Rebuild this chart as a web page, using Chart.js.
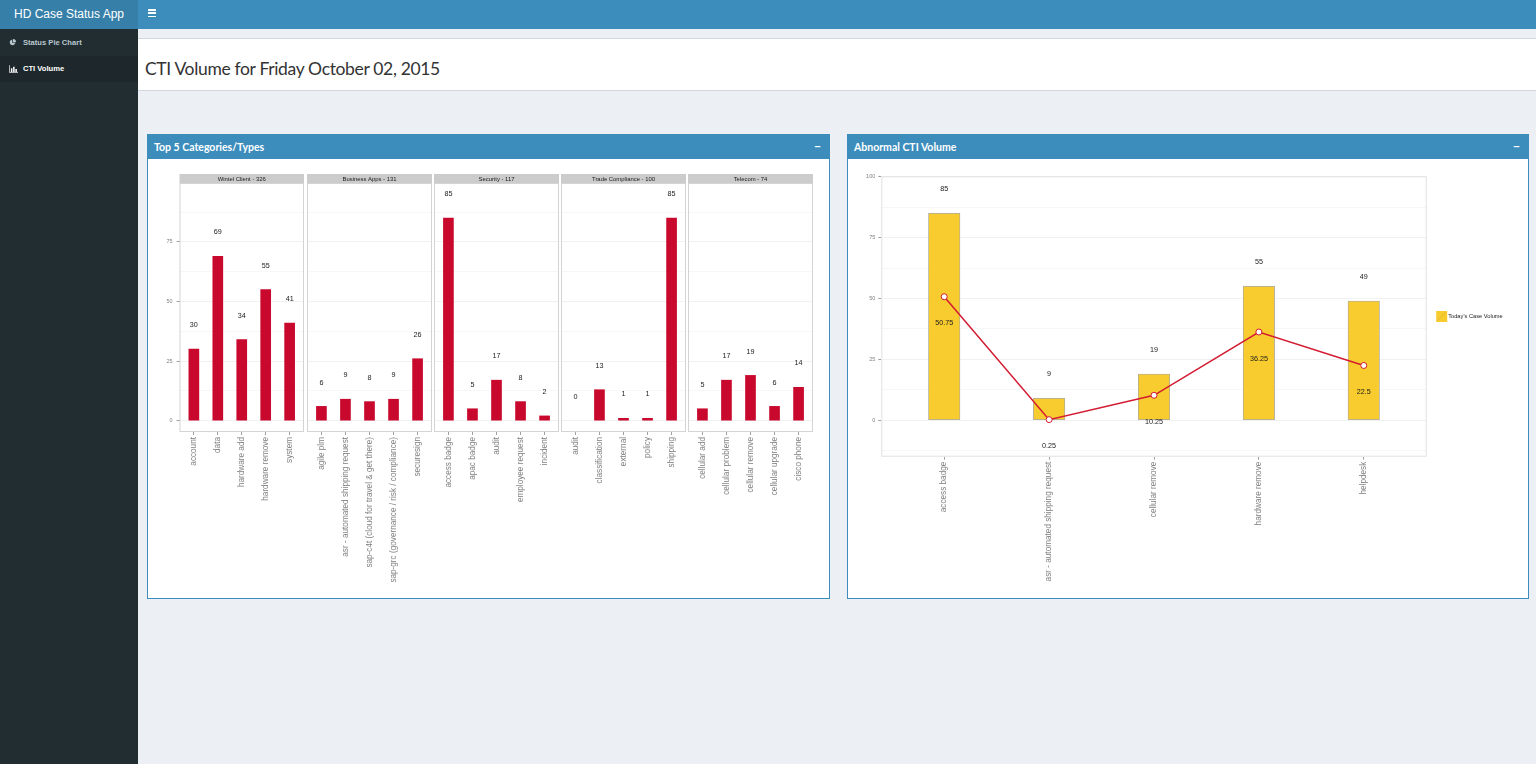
<!DOCTYPE html>
<html>
<head>
<meta charset="utf-8">
<title>HD Case Status App</title>
<script src="https://cdn.jsdelivr.net/npm/chart.js@4.4.0/dist/chart.umd.min.js"></script>
<style>
html, body { margin: 0; padding: 0; width: 1536px; height: 764px; overflow: hidden; background: #ecf0f5; font-family: "Liberation Sans", Arial, sans-serif; }
.abs { position: absolute; }
.topbar { left: 0; top: 0; width: 1536px; height: 29px; background: #3c8dbc; }
.logo { left: 0; top: 0; width: 138px; height: 29px; background: #367fa9; color: #fff; font-size: 12px; line-height: 29px; text-align: center; }
.burger { left: 148px; top: 9px; width: 8px; }
.burger div { height: 1.5px; background: #fff; margin-bottom: 1.8px; }
.sidebar { left: 0; top: 29px; width: 138px; height: 735px; background: #222d32; }
.menu { left: 0; width: 138px; height: 26px; font-size: 7.6px; font-weight: bold; line-height: 26px; color: #b8c7ce; }
.menu svg { position: absolute; left: 9px; top: 9px; }
.menu span { position: absolute; left: 23px; }
.menu.active { background: #1e282c; color: #fff; }
.band { left: 138px; top: 38px; width: 1398px; height: 51px; background: #fff; border-top: 1px solid #d2d6de; border-bottom: 1px solid #d2d6de; }
.band h1 { position: absolute; left: 7px; top: 19px; margin: 0; font-family: Lato, "Open Sans", sans-serif; font-weight: normal; font-size: 17.5px; letter-spacing: -0.34px; color: #333; }
.box { top: 134px; height: 463px; background: #fff; border: 1px solid #3c8dbc; box-sizing: content-box; }
.box .head { position: absolute; left: 0; top: 0; right: 0; height: 24px; background: #3c8dbc; color: #fff; font-family: Lato, "Open Sans", sans-serif; font-size: 10.5px; font-weight: bold; line-height: 24px; padding-left: 6px; }
.box .head b { position: absolute; right: 8px; top: -1px; font-size: 12px; }
canvas { position: absolute; }
</style>
</head>
<body>
<div class="abs topbar"></div>
<div class="abs logo">HD Case Status App</div>
<div class="abs burger"><div></div><div></div><div></div></div>
<div class="abs sidebar"></div>
<div class="abs menu" style="top:30px">
  <svg width="7" height="7" viewBox="0 0 10 10"><path d="M4.5 1 A4 4 0 1 0 9 5.5 L4.5 5.5 Z" fill="#b8c7ce"/><path d="M5.5 0 A4.5 4.5 0 0 1 10 4.5 L5.5 4.5 Z" fill="#b8c7ce"/></svg>
  <span>Status Pie Chart</span>
</div>
<div class="abs menu active" style="top:56px">
  <svg width="9" height="8" viewBox="0 0 12 10"><path d="M0.5 0 V9.5 H12" stroke="#fff" fill="none"/><rect x="2.5" y="4" width="2" height="5" fill="#fff"/><rect x="5.5" y="2" width="2" height="7" fill="#fff"/><rect x="8.5" y="5" width="2" height="4" fill="#fff"/></svg>
  <span>CTI Volume</span>
</div>
<div class="abs band"><h1>CTI Volume for Friday October 02, 2015</h1></div>

<div class="abs box" style="left:147px;width:681px"><div class="head">Top 5 Categories/Types<b>&minus;</b></div></div>
<div class="abs box" style="left:847px;width:680px"><div class="head">Abnormal CTI Volume<b>&minus;</b></div></div>

<canvas id="facet0" width="154" height="418" style="left:150px;top:174px"></canvas>
<canvas id="facet1" width="125" height="418" style="left:307px;top:174px"></canvas>
<canvas id="facet2" width="125" height="418" style="left:434px;top:174px"></canvas>
<canvas id="facet3" width="125" height="418" style="left:561px;top:174px"></canvas>
<canvas id="facet4" width="125" height="418" style="left:688px;top:174px"></canvas>
<canvas id="abnormal" width="677" height="417" style="left:850px;top:170px"></canvas>

<script>
// top 5 categories, each with its top 5 types
const facetTitles = ["Wintel Client - 326", "Business Apps - 131", "Security - 117", "Trade Compliance - 100", "Telecom - 74"];
const wintelTypes = ["account", "data", "hardware add", "hardware remove", "system"];
const wintelCounts = [30, 69, 34, 55, 41];
const bizAppsTypes = ["agile plm", "asr - automated shipping request", "sap-c4t (cloud for travel & get there)", "sap-grc (governance / risk / compliance)", "securesign"];
const bizAppsCounts = [6, 9, 8, 9, 26];
const securityTypes = ["access badge", "apac badge", "audit", "employee request", "incident"];
const securityCounts = [85, 5, 17, 8, 2];
const tradeTypes = ["audit", "classification", "external", "policy", "shipping"];
const tradeCounts = [0, 13, 1, 1, 85];
const telecomTypes = ["cellular add", "cellular problem", "cellular remove", "cellular upgrade", "cisco phone"];
const telecomCounts = [5, 17, 19, 6, 14];

// abnormal volume: today vs average
const abnormalTypes = ["access badge", "asr - automated shipping request", "cellular remove", "hardware remove", "helpdesk"];
const todayVolume = [85, 9, 19, 55, 49];
const averageVolume = [50.75, 0.25, 10.25, 36.25, 22.5];

const facetTypes = [wintelTypes, bizAppsTypes, securityTypes, tradeTypes, telecomTypes];
const facetCounts = [wintelCounts, bizAppsCounts, securityCounts, tradeCounts, telecomCounts];

const RED = "#c9082d";
const LINE_RED = "#d31b32";
const YELLOW = "#f8cb2e";
const AXIS_GREY = "#7f7f7f";

Chart.defaults.font.family = '"Liberation Sans", Arial, sans-serif';

// grey strip on top of each facet panel
const stripPlugin = {
    id: "strip",
    beforeDraw(chart, args, opts) {
        if (!opts.text) return;
        const ctx = chart.ctx, a = chart.chartArea;
        ctx.save();
        ctx.fillStyle = "#cccccc";
        ctx.fillRect(a.left, 0, a.right - a.left, a.top);
        ctx.fillStyle = "#1a1a1a";
        ctx.font = '5.9px "Liberation Sans", Arial, sans-serif';
        ctx.textAlign = "center";
        ctx.textBaseline = "middle";
        ctx.fillText(opts.text, (a.left + a.right) / 2, a.top / 2 + 0.5);
        ctx.restore();
    }
};

// thin grey border around the plot panel
const panelBorder = {
    id: "panelBorder",
    afterDraw(chart, args, opts) {
        const ctx = chart.ctx, a = chart.chartArea;
        ctx.save();
        ctx.strokeStyle = opts.color || "#d6d6d6";
        ctx.lineWidth = 1;
        ctx.strokeRect(a.left + 0.5, a.top + 0.5, a.right - a.left - 1, a.bottom - a.top - 1);
        ctx.restore();
    }
};

// value labels, shifted by labelOffset data units
const valueLabels = {
    id: "valueLabels",
    afterDatasetsDraw(chart) {
        const ctx = chart.ctx;
        const xs = chart.scales.x, ys = chart.scales.y;
        ctx.save();
        ctx.fillStyle = "#1a1a1a";
        ctx.font = '7.2px "Liberation Sans", Arial, sans-serif';
        ctx.textAlign = "center";
        ctx.textBaseline = "middle";
        chart.data.datasets.forEach(ds => {
            if (ds.labelOffset === undefined) return;
            ds.data.forEach(p => {
                ctx.fillText(String(p.y), xs.getPixelForValue(p.x), ys.getPixelForValue(p.y + ds.labelOffset));
            });
        });
        ctx.restore();
    }
};

// legend key drawn beside the panel
const sideLegend = {
    id: "sideLegend",
    afterDraw(chart, args, opts) {
        if (!opts.text) return;
        const ctx = chart.ctx, a = chart.chartArea;
        const x = a.right + 9.5, y = (a.top + a.bottom) / 2 - 5.5;
        ctx.save();
        ctx.fillStyle = YELLOW;
        ctx.fillRect(x, y, 11, 11);
        ctx.strokeStyle = "#d9b23a";
        ctx.lineWidth = 0.7;
        ctx.beginPath();
        ctx.moveTo(x + 1, y + 10);
        ctx.lineTo(x + 10, y + 1);
        ctx.stroke();
        ctx.fillStyle = "#1a1a1a";
        ctx.font = '5.7px "Liberation Sans", Arial, sans-serif';
        ctx.textBaseline = "middle";
        ctx.fillText(opts.text, x + 12, y + 5.5);
        ctx.restore();
    }
};

const isMajor = v => v % 25 === 0;
const gridColor = ctx => (ctx.tick && isMajor(ctx.tick.value)) ? "#f1f1f1" : "#f7f7f7";

function xAxis(types, height) {
    return {
        type: "linear",
        min: 0.4,
        max: 5.6,
        offset: false,
        border: { display: false },
        grid: { offset: false, drawOnChartArea: false, drawTicks: true, tickLength: 3, tickColor: "#a0a0a0" },
        ticks: {
            stepSize: 1,
            includeBounds: false,
            autoSkip: false,
            minRotation: 90,
            maxRotation: 90,
            padding: 2,
            color: AXIS_GREY,
            font: { size: 8.2 },
            callback: v => types[v - 1]
        },
        afterFit: s => { s.height = height; }
    };
}

function facetChart(i) {
    const types = facetTypes[i];
    const counts = facetCounts[i];
    const first = i === 0;
    new Chart(document.getElementById("facet" + i), {
        type: "bar",
        data: {
            datasets: [{
                data: types.map((t, k) => ({ x: k + 1, y: counts[k] })),
                backgroundColor: ctx => (ctx.raw && ctx.raw.y === 0) ? "rgba(0,0,0,0)" : RED,
                barThickness: 10,
                labelOffset: 10
            }]
        },
        options: {
            responsive: false,
            animation: false,
            layout: { padding: { top: 9, left: 0, right: 0, bottom: 0 } },
            plugins: {
                legend: { display: false },
                tooltip: { enabled: false },
                strip: { text: facetTitles[i] },
                panelBorder: { color: "#d4d4d4" }
            },
            scales: {
                x: xAxis(types, 160),
                y: {
                    min: -4.75,
                    max: 99.75,
                    border: { display: false },
                    grid: {
                        color: gridColor,
                        drawTicks: first,
                        tickLength: 3,
                        tickColor: ctx => isMajor(ctx.tick.value) ? "#a0a0a0" : "rgba(0,0,0,0)"
                    },
                    ticks: {
                        display: first,
                        stepSize: 12.5,
                        includeBounds: false,
                        padding: 4,
                        color: AXIS_GREY,
                        font: { size: 5.5 },
                        callback: v => isMajor(v) ? v : ""
                    },
                    afterFit: s => { s.width = first ? 29.5 : 0; }
                }
            }
        },
        plugins: [stripPlugin, panelBorder, valueLabels]
    });
}

for (let i = 0; i < 5; i++) facetChart(i);

new Chart(document.getElementById("abnormal"), {
    type: "bar",
    data: {
        datasets: [
            {
                type: "line",
                label: "Average",
                data: abnormalTypes.map((t, k) => ({ x: k + 1, y: averageVolume[k] })),
                borderColor: LINE_RED,
                borderWidth: 1.5,
                pointBackgroundColor: "#ffffff",
                pointBorderColor: LINE_RED,
                pointBorderWidth: 1,
                pointRadius: 3,
                tension: 0,
                order: 0,
                labelOffset: -11
            },
            {
                label: "Today's Case Volume",
                data: abnormalTypes.map((t, k) => ({ x: k + 1, y: todayVolume[k] })),
                backgroundColor: YELLOW,
                borderColor: "#a9a9a9",
                borderWidth: 0.8,
                borderSkipped: false,
                barThickness: 31.5,
                order: 1,
                labelOffset: 10
            }
        ]
    },
    options: {
        responsive: false,
        animation: false,
        layout: { padding: { top: 4, left: 0, right: 100.3, bottom: 0 } },
        plugins: {
            legend: { display: false },
            tooltip: { enabled: false },
            panelBorder: { color: "#e2e2e2" },
            sideLegend: { text: "Today's Case Volume" }
        },
        scales: {
            x: xAxis(abnormalTypes, 130.3),
            y: {
                min: -14.99,
                max: 100.24,
                border: { display: false },
                grid: {
                    color: gridColor,
                    tickLength: 3,
                    tickColor: ctx => isMajor(ctx.tick.value) ? "#a0a0a0" : "rgba(0,0,0,0)"
                },
                ticks: {
                    stepSize: 12.5,
                    includeBounds: false,
                    padding: 3,
                    color: AXIS_GREY,
                    font: { size: 5.5 },
                    callback: v => isMajor(v) ? v : ""
                },
                afterFit: s => { s.width = 31.3; }
            }
        }
    },
    plugins: [panelBorder, valueLabels, sideLegend]
});
</script>
</body>
</html>
